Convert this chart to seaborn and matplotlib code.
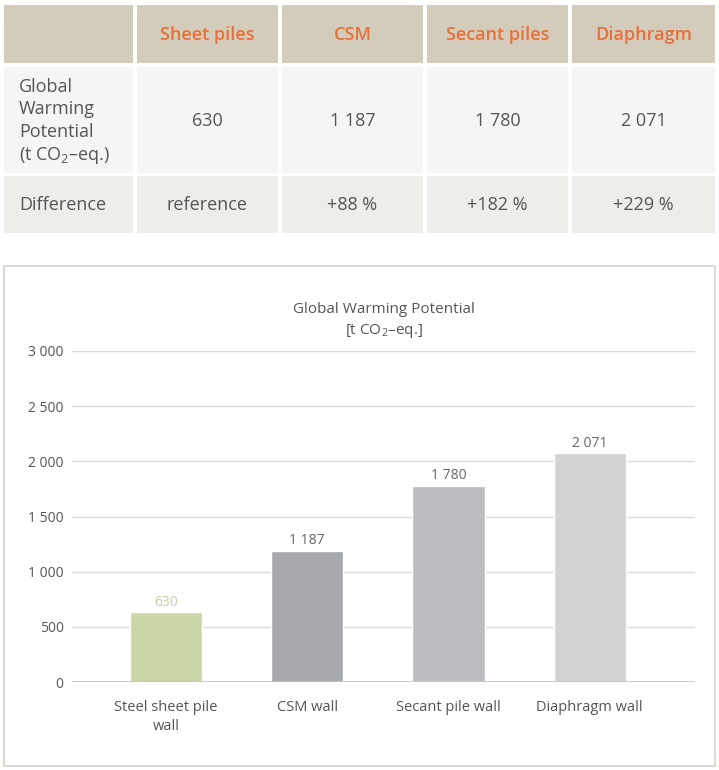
import matplotlib
matplotlib.use("Agg")
import matplotlib.pyplot as plt
from matplotlib.patches import Rectangle
import seaborn as sns

# data
table_columns = ["Sheet piles", "CSM", "Secant piles", "Diaphragm"]
row_labels = ["Global\nWarming\nPotential\n(t CO$_\\mathregular{2}$\u2013eq.)", "Difference"]
gwp_text = ["630", "1 187", "1 780", "2 071"]
diff_text = ["reference", "+88 %", "+182 %", "+229 %"]

categories = ["Steel sheet pile\nwall", "CSM wall", "Secant pile wall", "Diaphragm wall"]
gwp_values = [630, 1187, 1780, 2071]
y_ticks = [0, 500, 1000, 1500, 2000, 2500, 3000]

bar_colors = ["#cbd6a6", "#a7a8ab", "#bcbdc0", "#d1d2d4"]
label_colors = ["#c5d0a8", "#666666", "#666666", "#666666"]

sns.set_style("white")
plt.rcParams["font.family"] = ["Open Sans", "DejaVu Sans"]
plt.rcParams["mathtext.fontset"] = "custom"
plt.rcParams["mathtext.rm"] = "Open Sans"

W, H = 719, 770
fig = plt.figure(figsize=(W / 100, H / 100), dpi=100)
fig.patch.set_facecolor("white")

# overlay in pixel coordinates for the table and the chart frame
bg = fig.add_axes([0, 0, 1, 1])
bg.set_xlim(0, W)
bg.set_ylim(H, 0)
bg.axis("off")

col_x = [(4, 133), (137, 278), (282, 423), (427, 568), (572, 715)]
row_y = [(5, 63), (67, 173), (176, 233)]
row_bg = ["#d3ccbb", "#f6f5f3", "#efede9"]
text_gray = "#555555"

for r, (y0, y1) in enumerate(row_y):
    for c, (x0, x1) in enumerate(col_x):
        bg.add_patch(Rectangle((x0, y0), x1 - x0, y1 - y0, color=row_bg[r], lw=0))

for c, name in enumerate(table_columns):
    x0, x1 = col_x[c + 1]
    bg.text((x0 + x1) / 2, 35, name, ha="center", va="center",
            fontsize=13, color="#e8703a", fontweight="semibold")

bg.text(19, 122, row_labels[0], ha="left", va="center", fontsize=13,
        color=text_gray, linespacing=1.32)
bg.text(19, 205, row_labels[1], ha="left", va="center", fontsize=13, color=text_gray)
for c in range(4):
    x0, x1 = col_x[c + 1]
    bg.text((x0 + x1) / 2, 121, gwp_text[c], ha="center", va="center",
            fontsize=13, color=text_gray)
    bg.text((x0 + x1) / 2, 205, diff_text[c], ha="center", va="center",
            fontsize=13, color=text_gray)

bg.add_patch(Rectangle((4, 266), 711, 500, fill=False, ec="#d6d3ca", lw=1.2))

# bar chart
ax_l, ax_r, ax_top, ax_bot = 72, 695, 351, 682
ax = fig.add_axes([ax_l / W, 1 - ax_bot / H, (ax_r - ax_l) / W, (ax_bot - ax_top) / H])
ax.patch.set_alpha(0)

sns.barplot(x=categories, y=gwp_values, hue=categories, palette=bar_colors,
            width=0.51, legend=False, saturation=1, ax=ax, zorder=3)

ax.set_ylim(0, 3000)
ax.set_xlim(-0.665, 3.745)
ax.set_yticks(y_ticks)
ax.set_yticklabels([f"{v:,}".replace(",", " ") for v in y_ticks])
ax.yaxis.grid(True, color="#d9d9d9", lw=1, zorder=0)
ax.axhline(0, color="#c4c4c4", lw=1.2, zorder=4)
for s in ax.spines.values():
    s.set_visible(False)
ax.tick_params(axis="y", length=0, pad=6, labelsize=10, labelcolor=text_gray)
ax.tick_params(axis="x", length=0, pad=13, labelsize=10.5, labelcolor=text_gray)
for t in ax.get_xticklabels():
    t.set_linespacing(1.35)
ax.set_xlabel("")
ax.set_ylabel("")

for i, cont in enumerate(ax.containers):
    ax.bar_label(cont, labels=[gwp_text[i]], padding=2, fontsize=10,
                 color=label_colors[i])

ax.set_title("Global Warming Potential\n[t CO$_\\mathregular{2}$\u2013eq.]",
             fontsize=11, color=text_gray, pad=12, linespacing=1.45)

fig.savefig("out.png", dpi=100, facecolor="white")
